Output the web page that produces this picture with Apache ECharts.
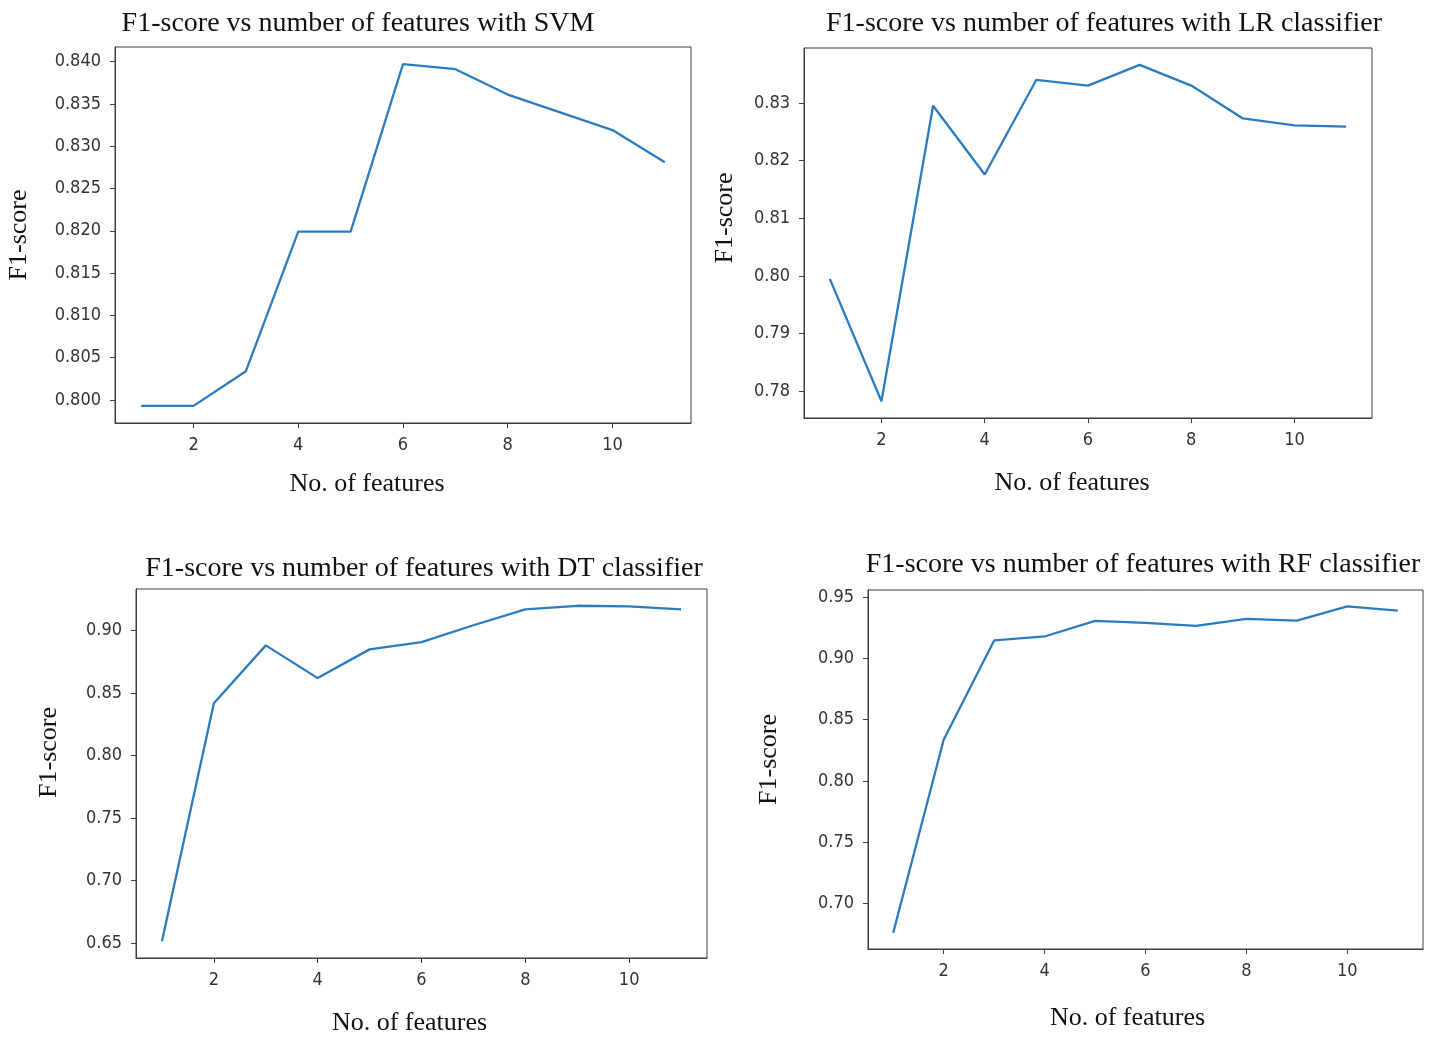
<!DOCTYPE html>
<html lang="en" style="height: 100%;width: 100%">
<head>
    <meta charset="utf-8">
</head>
<body style="height: 100%;width: 100%; margin: 0; background: #fff">
<div id="container" style="height: 1037px;width: 1439px;"></div>
<script type="text/javascript" src="https://cdn.jsdelivr.net/npm/echarts@6/dist/echarts.min.js"></script>
<script type="text/javascript">
    // number of features on the x axis
    var features = [1, 2, 3, 4, 5, 6, 7, 8, 9, 10, 11];
    var xTicks = [2, 4, 6, 8, 10];

    // F1-score per classifier
    var svmScores = [0.7993, 0.7993, 0.8034, 0.8199, 0.8199, 0.8397, 0.8391, 0.8361, 0.8340, 0.8319, 0.8281];
    var lrScores  = [0.7995, 0.7783, 0.8295, 0.8176, 0.8340, 0.8330, 0.8366, 0.8330, 0.8273, 0.8261, 0.8259];
    var dtScores  = [0.6513, 0.8418, 0.8881, 0.8619, 0.8849, 0.8907, 0.9042, 0.9169, 0.9198, 0.9193, 0.9169];
    var rfScores  = [0.6762, 0.8335, 0.9146, 0.9178, 0.9305, 0.9289, 0.9265, 0.9322, 0.9308, 0.9424, 0.9389];

    // y tick labels
    var svmTicks = [0.800, 0.805, 0.810, 0.815, 0.820, 0.825, 0.830, 0.835, 0.840];
    var lrTicks  = [0.78, 0.79, 0.80, 0.81, 0.82, 0.83];
    var dtTicks  = [0.65, 0.70, 0.75, 0.80, 0.85, 0.90];
    var rfTicks  = [0.70, 0.75, 0.80, 0.85, 0.90, 0.95];

    var titles = [
        'F1-score vs number of features with SVM',
        'F1-score vs number of features with LR classifier',
        'F1-score vs number of features with DT classifier',
        'F1-score vs number of features with RF classifier'
    ];

    // placement of each panel (pixels)
    var panels = [
        {scores: svmScores, ticks: svmTicks, dec: 3, grid: {left: 115, top: 47, width: 576, height: 376},
            titleX: 353, titleY: 5, xGap: 48, xShift: 36, yGap: 83, yShift: 0},
        {scores: lrScores,  ticks: lrTicks,  dec: 2, grid: {left: 804, top: 48, width: 568, height: 370},
            titleX: 1099, titleY: 5, xGap: 52, xShift: 16, yGap: 66, yShift: 15},
        {scores: dtScores,  ticks: dtTicks,  dec: 2, grid: {left: 136, top: 589, width: 571, height: 370},
            titleX: 419, titleY: 550, xGap: 52, xShift: 12, yGap: 74, yShift: 21},
        {scores: rfScores,  ticks: rfTicks,  dec: 2, grid: {left: 868, top: 590, width: 555, height: 359},
            titleX: 1138, titleY: 546, xGap: 56, xShift: 18, yGap: 86, yShift: 10}
    ];

    var serif = 'Liberation Serif';
    var sans = "'DejaVu Sans Condensed', 'Liberation Sans', sans-serif";
    var lineColor = '#2b7cbf';
    var frameColor = '#3c3c3c';

    // matplotlib style 5% margin
    function pad(arr) {
        var lo = Math.min.apply(null, arr), hi = Math.max.apply(null, arr);
        var m = (hi - lo) * 0.05;
        return [lo - m, hi + m];
    }

    var option = {
        animation: false,
        backgroundColor: '#fff',
        title: [],
        grid: [],
        xAxis: [],
        yAxis: [],
        series: []
    };

    panels.forEach(function (p, i) {
        var yr = pad(p.scores);
        option.title.push({
            text: titles[i],
            left: p.titleX,
            top: p.titleY,
            textAlign: 'center',
            textStyle: {fontFamily: serif, fontSize: 28, fontWeight: 'normal', color: '#111'}
        });
        option.grid.push({
            left: p.grid.left, top: p.grid.top, width: p.grid.width, height: p.grid.height,
            show: true, borderColor: frameColor, borderWidth: 1, backgroundColor: 'transparent'
        });
        option.xAxis.push({
            type: 'value',
            gridIndex: i,
            min: 0.5,
            max: 11.5,
            name: 'No. of features',
            nameLocation: 'middle',
            nameGap: p.xGap,
            nameTextStyle: {fontFamily: serif, fontSize: 26, color: '#111', padding: [0, p.xShift * 2, 0, 0]},
            axisLine: {show: true, onZero: false, lineStyle: {color: frameColor}},
            axisTick: {show: true, length: 5, customValues: xTicks, lineStyle: {color: frameColor}},
            axisLabel: {customValues: xTicks, margin: 13, fontFamily: sans, fontSize: 18, color: '#333'},
            splitLine: {show: false}
        });
        option.yAxis.push({
            type: 'value',
            gridIndex: i,
            min: yr[0],
            max: yr[1],
            name: 'F1-score',
            nameLocation: 'middle',
            nameGap: p.yGap,
            nameTextStyle: {fontFamily: serif, fontSize: 26, color: '#111', padding: [0, 0, 0, p.yShift * 2]},
            axisLine: {show: true, onZero: false, lineStyle: {color: frameColor}},
            axisTick: {show: true, length: 5, customValues: p.ticks, lineStyle: {color: frameColor}},
            axisLabel: {
                customValues: p.ticks, margin: 14, fontFamily: sans, fontSize: 18, color: '#333',
                formatter: (function (d) { return function (v) { return v.toFixed(d); }; })(p.dec)
            },
            splitLine: {show: false}
        });
        option.series.push({
            type: 'line',
            xAxisIndex: i,
            yAxisIndex: i,
            data: features.map(function (f, k) { return [f, p.scores[k]]; }),
            symbol: 'none',
            lineStyle: {color: lineColor, width: 2.3},
            silent: true
        });
    });

    var myChart = echarts.init(document.getElementById('container'), null, {renderer: 'canvas'});
    myChart.setOption(option);
</script>
</body>
</html>
